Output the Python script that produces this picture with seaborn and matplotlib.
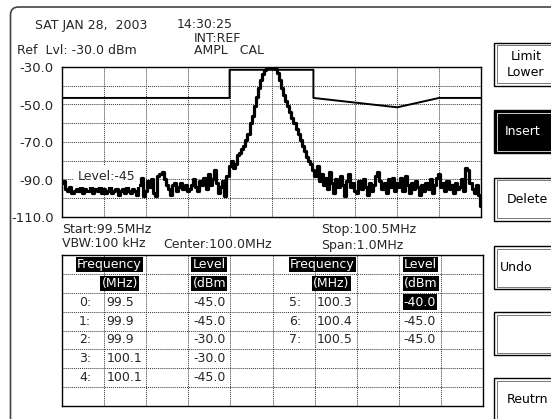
import numpy as np
import seaborn as sns
import matplotlib.pyplot as plt
from matplotlib.patches import Rectangle, FancyBboxPatch

freq_start, freq_stop = 99.5, 100.5
trace_level = [
    -92, -91, -95, -96, -94, -97, -96, -95, -96, -94, -97, -95, -96, -96, -94, -97, -95, -96, -93, -97, -95,
    -97, -96, -94, -97, -96, -95, -98, -96, -95, -97, -94, -96, -97, -95, -96, -98, -93, -89, -99, -96,
    -91, -94, -90, -97, -99, -88, -87, -86, -90, -93, -95, -98, -93, -92, -96, -94, -92, -95, -93, -96,
    -95, -93, -90, -94, -96, -91, -93, -89, -95, -87, -93, -90, -85, -92, -97, -94, -91, -99, -88, -83,
    -80, -84, -82, -77, -76, -74, -72, -69, -66, -60, -56, -51, -46, -41, -37, -34, -31.5, -30.5, -30, -30,
    -30.5, -31, -33, -37, -41, -45, -48, -51, -54, -57, -60, -63, -66, -69, -72, -75, -78, -80, -82, -85,
    -88, -83, -91, -87, -93, -89, -95, -86, -92, -97, -90, -94, -88, -93, -99, -91, -87, -94, -92, -96,
    -97, -91, -95, -90, -94, -98, -92, -96, -93, -88, -86, -91, -95, -92, -97, -90, -94, -89, -96, -92,
    -94, -89, -96, -88, -93, -97, -92, -95, -91, -94, -98, -93, -96, -92, -95, -90, -97, -93, -89, -87,
    -94, -92, -96, -91, -95, -93, -97, -92, -95, -94, -90, -96, -84, -85, -92, -95, -97, -93, -98, -104,
]
trace_freq = np.linspace(freq_start, freq_stop, len(trace_level))

# limit line as drawn on screen (point 5 is being edited in the table)
limit_freq = [99.5, 99.9, 99.9, 100.1, 100.1, 100.3, 100.4, 100.5]
limit_drawn = [-46.5, -46.5, -31.5, -31.5, -46.5, -51.5, -46.5, -46.5]

# limit table
table_idx = ['0:', '1:', '2:', '3:', '4:', '5:', '6:', '7:']
table_freq = ['99.5', '99.9', '99.9', '100.1', '100.1', '100.3', '100.4', '100.5']
table_level = ['-45.0', '-45.0', '-30.0', '-30.0', '-45.0', '-40.0', '-45.0', '-45.0']
edit_row = 5

y_ticks = [-30, -40, -50, -60, -70, -80, -90, -100, -110]
softkeys = ['Limit\nLower', 'Insert', 'Delete', 'Undo', '', 'Reutrn']
softkey_top = [43, 110, 178, 246, 312, 378]
softkey_tx = [526, 523, 527, 516, 522, 527]

sns.set_style('white')
plt.rcParams['font.family'] = ['DejaVu Sans']
fs = 9

W, H = 551, 419
fig = plt.figure(figsize=(W / 100, H / 100), dpi=100)

# overlay in pixel coordinates for the screen furniture
ov = fig.add_axes([0, 0, 1, 1])
ov.set_xlim(0, W)
ov.set_ylim(H, 0)
ov.axis('off')
ov.add_patch(FancyBboxPatch((10.5, 7), 800, 600, boxstyle='round,pad=0,rounding_size=8',
                            fill=False, ec='#444444', lw=1.2))

ov.text(35, 25, 'SAT JAN 28,  2003', fontsize=fs, va='center')
ov.text(177, 25, '14:30:25', fontsize=fs, va='center')
ov.text(194, 38, 'INT:REF', fontsize=fs, va='center')
ov.text(17, 50, 'Ref  Lvl: -30.0 dBm', fontsize=fs, va='center')
ov.text(194, 50, 'AMPL   CAL', fontsize=fs, va='center')
ov.text(62, 229, 'Start:99.5MHz', fontsize=fs, va='center')
ov.text(62, 243, 'VBW:100 kHz', fontsize=fs, va='center')
ov.text(163, 244, 'Center:100.0MHz', fontsize=fs, va='center')
ov.text(321, 229, 'Stop:100.5MHz', fontsize=fs, va='center')
ov.text(321, 245, 'Span:1.0MHz', fontsize=fs, va='center')

for lab, top, tx in zip(softkeys, softkey_top, softkey_tx):
    dark = lab == 'Insert'
    ov.add_patch(Rectangle((494, top), 58, 43, fc='black' if dark else 'white', ec='black', lw=1.0))
    ov.add_patch(Rectangle((496.5, top + 2.5), 58, 38, fill=False, ec='#777777' if not dark else '#cccccc', lw=0.7))
    ov.text(tx, top + 21.5, lab, fontsize=fs, ha='center', va='center', color='white' if dark else 'black',
            linespacing=1.3)

# spectrum display
ax = fig.add_axes([62 / W, 1 - 217 / H, 419 / W, 150 / H])
sns.lineplot(x=trace_freq, y=trace_level, ax=ax, color='black', linewidth=2.3, drawstyle='steps-mid')
sns.lineplot(x=limit_freq, y=limit_drawn, ax=ax, estimator=None, sort=False, color='black', linewidth=1.4)
ax.set_xlim(freq_start, freq_stop)
ax.set_ylim(-110, -30)
ax.set_xticks(np.linspace(freq_start, freq_stop, 11))
ax.set_xticklabels([])
ax.set_yticks(y_ticks)
ax.set_yticklabels([f'{v:.1f}' if (v + 30) % 20 == 0 else '' for v in y_ticks])
ax.grid(True, linestyle=(0, (1, 1)), color='#333333', linewidth=0.7)
ax.tick_params(length=0, pad=6, labelsize=fs + 0.5)
for s in ax.spines.values():
    s.set_color('black')
    s.set_linewidth(1.0)
ax.text(99.537, -88.5, 'Level:-45', fontsize=fs, va='center', zorder=5,
        bbox=dict(boxstyle='square,pad=0.3', fc='white', ec='none'))

# limit table
tb = fig.add_axes([62 / W, 1 - 406 / H, 421 / W, 151 / H])
tb.set_xlim(0, 10)
tb.set_ylim(8, 0)
tb.set_xticks(range(11))
tb.set_yticks(range(9))
tb.set_xticklabels([])
tb.set_yticklabels([])
tb.tick_params(length=0)
tb.grid(True, linestyle=(0, (1, 1)), color='#333333', linewidth=0.7)
for s in tb.spines.values():
    s.set_color('black')
    s.set_linewidth(1.0)

inv = dict(color='white', bbox=dict(boxstyle='square,pad=0.1', fc='black', ec='none'))
tb.text(1.13, 0.5, 'Frequency', fontsize=fs, ha='center', va='center', **inv)
tb.text(1.37, 1.5, '(MHz)', fontsize=fs, ha='center', va='center', **inv)
tb.text(3.1, 0.5, 'Level', fontsize=fs, ha='left', va='center', **inv)
tb.text(3.1, 1.5, '(dBm', fontsize=fs, ha='left', va='center', **inv)
tb.text(6.18, 0.5, 'Frequency', fontsize=fs, ha='center', va='center', **inv)
tb.text(6.4, 1.5, '(MHz)', fontsize=fs, ha='center', va='center', **inv)
tb.text(8.12, 0.5, 'Level', fontsize=fs, ha='left', va='center', **inv)
tb.text(8.12, 1.5, '(dBm', fontsize=fs, ha='left', va='center', **inv)

for i, (idx, f, lv) in enumerate(zip(table_idx, table_freq, table_level)):
    right = i >= 5
    row = 2.5 + (i - 5 if right else i)
    x0 = 5 if right else 0
    tb.text(x0 + 0.69, row, idx, fontsize=fs, ha='right', va='center')
    tb.text(x0 + 1.05, row, f, fontsize=fs, ha='left', va='center')
    kw = inv if i == edit_row else {}
    tb.text(x0 + 3.12, row, lv, fontsize=fs, ha='left', va='center', **kw)

fig.savefig('out.png', dpi=100)
